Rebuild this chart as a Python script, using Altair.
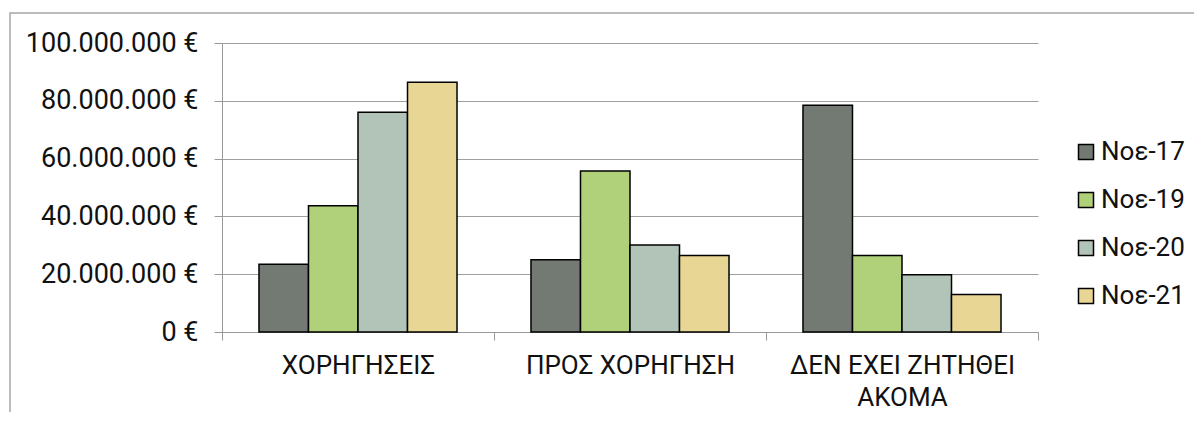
import altair as alt
import pandas as pd

categories = ["ΧΟΡΗΓΗΣΕΙΣ", "ΠΡΟΣ ΧΟΡΗΓΗΣΗ", "ΔΕΝ ΕΧΕΙ ΖΗΤΗΘΕΙ ΑΚΟΜΑ"]
series = ["Νοε-17", "Νοε-19", "Νοε-20", "Νοε-21"]
colors = ["#727a73", "#b0d07a", "#b2c4b7", "#e8d794"]

v_nov17 = [23400000, 25000000, 78500000]
v_nov19 = [43700000, 55700000, 26500000]
v_nov20 = [76000000, 30100000, 19800000]
v_nov21 = [86400000, 26500000, 13000000]
y_ticks = [0, 20000000, 40000000, 60000000, 80000000, 100000000]

rows = []
for s, vals in zip(series, [v_nov17, v_nov19, v_nov20, v_nov21]):
    for c, v in zip(categories, vals):
        rows.append({"cat": c, "series": s, "value": v})
df = pd.DataFrame(rows)

FONT = "Roboto"

bars = alt.Chart(df).mark_bar(stroke="black", strokeWidth=1.5).encode(
    x=alt.X(
        "cat:N",
        sort=categories,
        scale=alt.Scale(paddingInner=0, paddingOuter=0),
        axis=alt.Axis(
            title=None,
            labelAngle=0,
            tickBand="extent",
            tickSize=8,
            tickColor="#999999",
            domainColor="#999999",
            labelPadding=12,
            labelFontSize=26,
            labelFont=FONT,
            labelColor="#111111",
            labelLineHeight=32,
            labelBaseline="top",
            labelLimit=0,
            labelExpr="datum.label == 'ΔΕΝ ΕΧΕΙ ΖΗΤΗΘΕΙ ΑΚΟΜΑ' ? ['ΔΕΝ ΕΧΕΙ ΖΗΤΗΘΕΙ', 'ΑΚΟΜΑ'] : datum.label",
        ),
    ),
    xOffset=alt.XOffset(
        "series:N", sort=series, scale=alt.Scale(paddingInner=0, paddingOuter=0.747)
    ),
    y=alt.Y(
        "value:Q",
        scale=alt.Scale(domain=[0, 100000000], nice=False),
        axis=alt.Axis(
            title=None,
            values=y_ticks,
            tickSize=8,
            tickColor="#999999",
            domainColor="#999999",
            gridColor="#a0a0a0",
            labelPadding=16,
            labelFontSize=27,
            labelFont=FONT,
            labelColor="#111111",
            labelLimit=0,
            labelExpr="replace(format(datum.value, ',d'), /,/g, '.') + ' €'",
        ),
    ),
    color=alt.Color(
        "series:N",
        scale=alt.Scale(domain=series, range=colors),
        legend=alt.Legend(
            title=None,
            orient="none",
            legendX=851,
            legendY=96,
            padding=0,
            symbolType="square",
            symbolSize=225,
            symbolStrokeColor="black",
            symbolStrokeWidth=1.5,
            symbolOpacity=1,
            labelFontSize=26,
            labelFont=FONT,
            labelColor="#111111",
            labelOffset=2,
            labelLimit=0,
            rowPadding=22,
        ),
    ),
)

frame = alt.Chart(pd.DataFrame({"a": [0]})).mark_rect(
    fillOpacity=0, stroke="#a6a6a6", strokeWidth=1.5
).encode(
    x=alt.value(-212), x2=alt.value(990), y=alt.value(-30), y2=alt.value(420)
)

chart = alt.layer(frame, bars).properties(
    width=816,
    height=289,
    padding={"left": 214, "top": 35, "right": 156, "bottom": 80},
    autosize=alt.AutoSizeParams(type="none"),
).configure_view(strokeWidth=0)

chart.save("out.html", embed_options={"renderer": "svg", "actions": False})
